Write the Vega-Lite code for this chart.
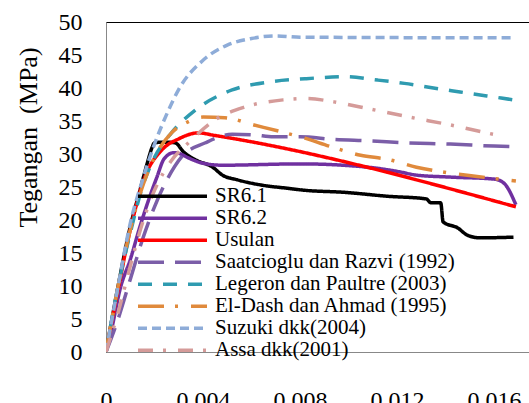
{
  "$schema": "https://vega.github.io/schema/vega-lite/v6.json",
  "autosize": {"type": "none"},
  "padding": {"left": 106, "top": 22, "right": 0, "bottom": 51},
  "width": 423,
  "height": 330,
  "background": "white",
  "config": {
    "view": {"stroke": "#000", "strokeWidth": 1},
    "font": "Liberation Serif"
  },
  "data": {
    "values": [
      {"series": "SR6.1", "strain": 0, "stress": 0},
      {"series": "SR6.1", "strain": 0.0005, "stress": 10},
      {"series": "SR6.1", "strain": 0.001, "stress": 19},
      {"series": "SR6.1", "strain": 0.0014, "stress": 24.5},
      {"series": "SR6.1", "strain": 0.0017, "stress": 28.6},
      {"series": "SR6.1", "strain": 0.0019, "stress": 31},
      {"series": "SR6.1", "strain": 0.002, "stress": 31.7},
      {"series": "SR6.1", "strain": 0.0024, "stress": 31.8},
      {"series": "SR6.1", "strain": 0.00285, "stress": 31.7},
      {"series": "SR6.1", "strain": 0.0032, "stress": 30.3},
      {"series": "SR6.1", "strain": 0.0037, "stress": 29.1},
      {"series": "SR6.1", "strain": 0.0044, "stress": 28},
      {"series": "SR6.1", "strain": 0.0048, "stress": 26.8},
      {"series": "SR6.1", "strain": 0.0054, "stress": 26.1},
      {"series": "SR6.1", "strain": 0.0064, "stress": 25.3},
      {"series": "SR6.1", "strain": 0.0075, "stress": 24.8},
      {"series": "SR6.1", "strain": 0.0082, "stress": 24.5},
      {"series": "SR6.1", "strain": 0.0098, "stress": 24.2},
      {"series": "SR6.1", "strain": 0.0116, "stress": 23.6},
      {"series": "SR6.1", "strain": 0.0132, "stress": 23.2},
      {"series": "SR6.1", "strain": 0.0134, "stress": 22.6},
      {"series": "SR6.1", "strain": 0.0138, "stress": 22.6},
      {"series": "SR6.1", "strain": 0.0139, "stress": 19.7},
      {"series": "SR6.1", "strain": 0.0145, "stress": 18.8},
      {"series": "SR6.1", "strain": 0.0149, "stress": 17.7},
      {"series": "SR6.1", "strain": 0.0154, "stress": 17.3},
      {"series": "SR6.1", "strain": 0.0168, "stress": 17.4},

      {"series": "SR6.2", "strain": 0, "stress": 0},
      {"series": "SR6.2", "strain": 0.0002, "stress": 2.9},
      {"series": "SR6.2", "strain": 0.0006, "stress": 9.8},
      {"series": "SR6.2", "strain": 0.001, "stress": 14},
      {"series": "SR6.2", "strain": 0.0014, "stress": 19},
      {"series": "SR6.2", "strain": 0.0018, "stress": 23.5},
      {"series": "SR6.2", "strain": 0.0021, "stress": 26.5},
      {"series": "SR6.2", "strain": 0.0024, "stress": 29.3},
      {"series": "SR6.2", "strain": 0.0028, "stress": 30.2},
      {"series": "SR6.2", "strain": 0.003, "stress": 30.1},
      {"series": "SR6.2", "strain": 0.0034, "stress": 29.4},
      {"series": "SR6.2", "strain": 0.004, "stress": 28.6},
      {"series": "SR6.2", "strain": 0.0048, "stress": 28.3},
      {"series": "SR6.2", "strain": 0.008, "stress": 28.5},
      {"series": "SR6.2", "strain": 0.0108, "stress": 28.0},
      {"series": "SR6.2", "strain": 0.0121, "stress": 27.3},
      {"series": "SR6.2", "strain": 0.0128, "stress": 26.8},
      {"series": "SR6.2", "strain": 0.0142, "stress": 26.5},
      {"series": "SR6.2", "strain": 0.016, "stress": 26.2},
      {"series": "SR6.2", "strain": 0.0164, "stress": 25.6},
      {"series": "SR6.2", "strain": 0.0169, "stress": 22.3},

      {"series": "Usulan", "strain": 0, "stress": 0},
      {"series": "Usulan", "strain": 0.0005, "stress": 9.5},
      {"series": "Usulan", "strain": 0.001, "stress": 18.5},
      {"series": "Usulan", "strain": 0.0016, "stress": 26.5},
      {"series": "Usulan", "strain": 0.0023, "stress": 30.6},
      {"series": "Usulan", "strain": 0.003, "stress": 32.3},
      {"series": "Usulan", "strain": 0.0038, "stress": 33.2},
      {"series": "Usulan", "strain": 0.0045, "stress": 32.8},
      {"series": "Usulan", "strain": 0.0169, "stress": 22},

      {"series": "Saatcioglu dan Razvi (1992)", "strain": 0, "stress": 0},
      {"series": "Saatcioglu dan Razvi (1992)", "strain": 0.0005, "stress": 5},
      {"series": "Saatcioglu dan Razvi (1992)", "strain": 0.001, "stress": 11},
      {"series": "Saatcioglu dan Razvi (1992)", "strain": 0.0015, "stress": 17},
      {"series": "Saatcioglu dan Razvi (1992)", "strain": 0.002, "stress": 22},
      {"series": "Saatcioglu dan Razvi (1992)", "strain": 0.0025, "stress": 26},
      {"series": "Saatcioglu dan Razvi (1992)", "strain": 0.0031, "stress": 29.5},
      {"series": "Saatcioglu dan Razvi (1992)", "strain": 0.0041, "stress": 31.7},
      {"series": "Saatcioglu dan Razvi (1992)", "strain": 0.0052, "stress": 33},
      {"series": "Saatcioglu dan Razvi (1992)", "strain": 0.0061, "stress": 32.9},
      {"series": "Saatcioglu dan Razvi (1992)", "strain": 0.0069, "stress": 32.6},
      {"series": "Saatcioglu dan Razvi (1992)", "strain": 0.008, "stress": 32.6},
      {"series": "Saatcioglu dan Razvi (1992)", "strain": 0.0094, "stress": 32.2},
      {"series": "Saatcioglu dan Razvi (1992)", "strain": 0.0108, "stress": 32.0},
      {"series": "Saatcioglu dan Razvi (1992)", "strain": 0.0124, "stress": 31.7},
      {"series": "Saatcioglu dan Razvi (1992)", "strain": 0.0142, "stress": 31.5},
      {"series": "Saatcioglu dan Razvi (1992)", "strain": 0.016, "stress": 31.2},
      {"series": "Saatcioglu dan Razvi (1992)", "strain": 0.0168, "stress": 31.1},

      {"series": "Legeron dan Paultre (2003)", "strain": 0, "stress": 0},
      {"series": "Legeron dan Paultre (2003)", "strain": 0.0005, "stress": 10},
      {"series": "Legeron dan Paultre (2003)", "strain": 0.001, "stress": 18},
      {"series": "Legeron dan Paultre (2003)", "strain": 0.0015, "stress": 25},
      {"series": "Legeron dan Paultre (2003)", "strain": 0.002, "stress": 29.5},
      {"series": "Legeron dan Paultre (2003)", "strain": 0.0027, "stress": 33.2},
      {"series": "Legeron dan Paultre (2003)", "strain": 0.0037, "stress": 36.7},
      {"series": "Legeron dan Paultre (2003)", "strain": 0.0052, "stress": 39.7},
      {"series": "Legeron dan Paultre (2003)", "strain": 0.0067, "stress": 40.9},
      {"series": "Legeron dan Paultre (2003)", "strain": 0.0082, "stress": 41.4},
      {"series": "Legeron dan Paultre (2003)", "strain": 0.0099, "stress": 41.7},
      {"series": "Legeron dan Paultre (2003)", "strain": 0.0112, "stress": 41.2},
      {"series": "Legeron dan Paultre (2003)", "strain": 0.0123, "stress": 40.7},
      {"series": "Legeron dan Paultre (2003)", "strain": 0.0135, "stress": 40.0},
      {"series": "Legeron dan Paultre (2003)", "strain": 0.0146, "stress": 39.4},
      {"series": "Legeron dan Paultre (2003)", "strain": 0.0157, "stress": 38.8},
      {"series": "Legeron dan Paultre (2003)", "strain": 0.0168, "stress": 38.2},

      {"series": "El-Dash dan Ahmad (1995)", "strain": 0, "stress": 0},
      {"series": "El-Dash dan Ahmad (1995)", "strain": 0.0005, "stress": 10},
      {"series": "El-Dash dan Ahmad (1995)", "strain": 0.001, "stress": 18.5},
      {"series": "El-Dash dan Ahmad (1995)", "strain": 0.0015, "stress": 25},
      {"series": "El-Dash dan Ahmad (1995)", "strain": 0.002, "stress": 29.5},
      {"series": "El-Dash dan Ahmad (1995)", "strain": 0.0027, "stress": 33.2},
      {"series": "El-Dash dan Ahmad (1995)", "strain": 0.0034, "stress": 34.9},
      {"series": "El-Dash dan Ahmad (1995)", "strain": 0.004, "stress": 35.6},
      {"series": "El-Dash dan Ahmad (1995)", "strain": 0.0049, "stress": 35.5},
      {"series": "El-Dash dan Ahmad (1995)", "strain": 0.0061, "stress": 34.4},
      {"series": "El-Dash dan Ahmad (1995)", "strain": 0.0074, "stress": 33.2},
      {"series": "El-Dash dan Ahmad (1995)", "strain": 0.0082, "stress": 32.4},
      {"series": "El-Dash dan Ahmad (1995)", "strain": 0.0092, "stress": 31.2},
      {"series": "El-Dash dan Ahmad (1995)", "strain": 0.0105, "stress": 29.8},
      {"series": "El-Dash dan Ahmad (1995)", "strain": 0.0116, "stress": 29.2},
      {"series": "El-Dash dan Ahmad (1995)", "strain": 0.0128, "stress": 28.0},
      {"series": "El-Dash dan Ahmad (1995)", "strain": 0.0142, "stress": 27.1},
      {"series": "El-Dash dan Ahmad (1995)", "strain": 0.0153, "stress": 26.6},
      {"series": "El-Dash dan Ahmad (1995)", "strain": 0.0169, "stress": 25.9},

      {"series": "Suzuki dkk(2004)", "strain": 0, "stress": 0},
      {"series": "Suzuki dkk(2004)", "strain": 0.0005, "stress": 10},
      {"series": "Suzuki dkk(2004)", "strain": 0.001, "stress": 19.5},
      {"series": "Suzuki dkk(2004)", "strain": 0.0015, "stress": 26},
      {"series": "Suzuki dkk(2004)", "strain": 0.002, "stress": 31.5},
      {"series": "Suzuki dkk(2004)", "strain": 0.0025, "stress": 36},
      {"series": "Suzuki dkk(2004)", "strain": 0.003, "stress": 39.8},
      {"series": "Suzuki dkk(2004)", "strain": 0.004, "stress": 44.2},
      {"series": "Suzuki dkk(2004)", "strain": 0.005, "stress": 46.5},
      {"series": "Suzuki dkk(2004)", "strain": 0.006, "stress": 47.5},
      {"series": "Suzuki dkk(2004)", "strain": 0.007, "stress": 47.9},
      {"series": "Suzuki dkk(2004)", "strain": 0.008, "stress": 47.7},
      {"series": "Suzuki dkk(2004)", "strain": 0.0168, "stress": 47.6},

      {"series": "Assa dkk(2001)", "strain": 0, "stress": 0},
      {"series": "Assa dkk(2001)", "strain": 0.0005, "stress": 6},
      {"series": "Assa dkk(2001)", "strain": 0.001, "stress": 13},
      {"series": "Assa dkk(2001)", "strain": 0.0015, "stress": 19.5},
      {"series": "Assa dkk(2001)", "strain": 0.002, "stress": 24.5},
      {"series": "Assa dkk(2001)", "strain": 0.0027, "stress": 29},
      {"series": "Assa dkk(2001)", "strain": 0.0034, "stress": 31.7},
      {"series": "Assa dkk(2001)", "strain": 0.0045, "stress": 35.2},
      {"series": "Assa dkk(2001)", "strain": 0.0057, "stress": 37.1},
      {"series": "Assa dkk(2001)", "strain": 0.0073, "stress": 38.2},
      {"series": "Assa dkk(2001)", "strain": 0.0083, "stress": 38.4},
      {"series": "Assa dkk(2001)", "strain": 0.0094, "stress": 37.9},
      {"series": "Assa dkk(2001)", "strain": 0.0109, "stress": 36.8},
      {"series": "Assa dkk(2001)", "strain": 0.0125, "stress": 35.6},
      {"series": "Assa dkk(2001)", "strain": 0.0142, "stress": 34.4},
      {"series": "Assa dkk(2001)", "strain": 0.0161, "stress": 32.9},
      {"series": "Assa dkk(2001)", "strain": 0.0164, "stress": 32.7}
    ]
  },
  "mark": {"type": "line", "interpolate": "monotone", "strokeCap": "butt", "strokeJoin": "round", "clip": true},
  "encoding": {
    "x": {
      "field": "strain", "type": "quantitative",
      "scale": {"domain": [0, 0.01744], "nice": false, "zero": true},
      "axis": {
        "values": [0, 0.004, 0.008, 0.012, 0.016],
        "labelExpr": "datum.value == 0 ? '0' : format(datum.value, '.3f')",
        "title": null, "grid": false, "ticks": false,
        "domainColor": "#888", "domainWidth": 1,
        "labelFont": "Liberation Serif", "labelFontSize": 24, "labelColor": "#000",
        "labelPadding": 36, "labelFlush": false, "labelOverlap": false
      }
    },
    "y": {
      "field": "stress", "type": "quantitative",
      "scale": {"domain": [0, 50], "nice": false},
      "axis": {
        "values": [0, 5, 10, 15, 20, 25, 30, 35, 40, 45, 50],
        "title": "Tegangan\u00a0 (MPa)", "grid": false, "ticks": false,
        "domainColor": "#888", "domainWidth": 1,
        "labelFont": "Liberation Serif", "labelFontSize": 24, "labelColor": "#000",
        "labelPadding": 24, "labelOverlap": false,
        "titleFont": "Liberation Serif", "titleFontSize": 26, "titleFontWeight": "normal", "titleColor": "#000",
        "titleX": -78, "titleY": 115, "titleAngle": -90, "titleAlign": "center", "titleBaseline": "middle"
      }
    },
    "color": {
      "field": "series", "type": "nominal",
      "scale": {
        "domain": ["SR6.1", "SR6.2", "Usulan", "Saatcioglu dan Razvi (1992)", "Legeron dan Paultre (2003)", "El-Dash dan Ahmad (1995)", "Suzuki dkk(2004)", "Assa dkk(2001)"],
        "range": ["#000000", "#7030A0", "#FF0000", "#7B5EA8", "#2F9BB0", "#E08A3C", "#8EACD8", "#D59B99"]
      },
      "legend": {
        "title": null, "orient": "none", "legendX": 30, "legendY": 165,
        "symbolType": "stroke", "symbolSize": 4761, "symbolStrokeWidth": 2.5,
        "labelFont": "Liberation Serif", "labelFontSize": 21, "labelColor": "#000",
        "labelOffset": 6, "labelLimit": 400, "rowPadding": 0, "padding": 0,
        "clipHeight": 18.5
      }
    },
    "strokeDash": {
      "field": "series", "type": "nominal",
      "scale": {
        "domain": ["SR6.1", "SR6.2", "Usulan", "Saatcioglu dan Razvi (1992)", "Legeron dan Paultre (2003)", "El-Dash dan Ahmad (1995)", "Suzuki dkk(2004)", "Assa dkk(2001)"],
        "range": [[1, 0], [1, 0], [1, 0], [26, 11], [14, 11], [26, 11, 3, 13], [9, 5], [15, 10, 3, 12]]
      },
      "legend": {
        "title": null, "orient": "none", "legendX": 30, "legendY": 165,
        "symbolType": "stroke", "symbolSize": 4761, "symbolStrokeWidth": 2.5,
        "labelFont": "Liberation Serif", "labelFontSize": 21, "labelColor": "#000",
        "labelOffset": 6, "labelLimit": 400, "rowPadding": 0, "padding": 0,
        "clipHeight": 18.5
      }
    },
    "strokeWidth": {
      "field": "series", "type": "nominal",
      "scale": {
        "domain": ["SR6.1", "SR6.2", "Usulan", "Saatcioglu dan Razvi (1992)", "Legeron dan Paultre (2003)", "El-Dash dan Ahmad (1995)", "Suzuki dkk(2004)", "Assa dkk(2001)"],
        "range": [3.5, 3.5, 6.5, 3.5, 3.5, 3, 3, 3]
      },
      "legend": null
    }
  }
}
